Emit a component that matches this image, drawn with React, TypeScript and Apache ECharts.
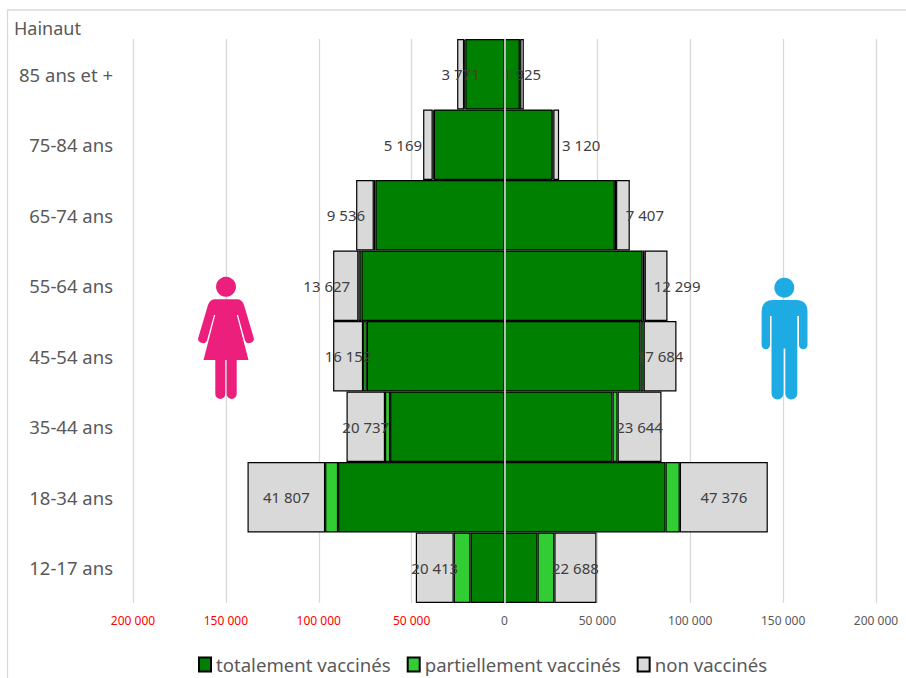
import React, { useEffect, useRef } from "react";
import * as echarts from "echarts";

const categories = ["85 ans et +", "75-84 ans", "65-74 ans", "55-64 ans", "45-54 ans", "35-44 ans", "18-34 ans", "12-17 ans"];
const femmesTotal = [-21100, -38050, -69450, -77000, -74130, -61590, -89580, -18300];
const femmesPartiel = [-630, -590, -900, -1640, -1990, -2730, -6970, -9040];
const femmesNon = [-3771, -5169, -9536, -13627, -16152, -20737, -41807, -20413];
const hommesTotal = [8240, 25840, 59380, 74300, 73200, 58140, 86680, 17770];
const hommesPartiel = [235, 440, 670, 1150, 1700, 2740, 7700, 9070];
const hommesNon = [1925, 3120, 7407, 12299, 17684, 23644, 47376, 22688];
const femmesLabelShift = [0, -25, -19, -19, 0, 0, 0, 0];
const hommesLabelShift = [0, 25, 22, 21, 0, 0, 0, 0];

const NAME_TOTAL = "totalement vaccinés";
const NAME_PARTIEL = "partiellement vaccinés";
const NAME_NON = "non vaccinés";
const FONT = "'Noto Sans', sans-serif";

const WOMAN =
  "M226 299.3 L237 299.3 Q242 299.3 244 305 L253.5 337 A4.6 4.6 0 0 1 245 340.5 L238 315 L236.8 315 L248.5 360 L236.7 360 L236.7 394 A5 5 0 0 1 226.7 394 L226.7 360 L225.3 360 L225.3 394 A5 5 0 0 1 215.3 394 L215.3 360 L203.5 360 L215.2 315 L214 315 L207 340.5 A4.6 4.6 0 0 1 198.5 337 L208 305 Q210 299.3 215 299.3 Z";
const MAN =
  "M773 300 L796 300 Q807.5 300 807.5 312 L807.5 345 A4.2 4.2 0 0 1 799 345 L799 316 L797.3 316 L797.3 393.5 A6 6 0 0 1 785.3 393.5 L785.3 348.5 L783.5 348.5 L783.5 393.5 A6 6 0 0 1 771.5 393.5 L771.5 316 L770 316 L770 345 A4.2 4.2 0 0 1 761.6 345 L761.6 312 Q761.6 300 773 300 Z";

echarts.graphic.registerShape("woman", echarts.graphic.extendPath(WOMAN, {}));
echarts.graphic.registerShape("man", echarts.graphic.extendPath(MAN, {}));

const fmt = (v: number | string) =>
  String(Math.abs(Number(v))).replace(/\B(?=(\d{3})+(?!\d))/g, " ");

function bar(name: string, data: number[], color: string, shifts?: number[]) {
  return {
    type: "bar",
    name,
    data: shifts
      ? data.map((value, i) => ({ value, label: { offset: [shifts[i], 0] } }))
      : data,
    stack: "pyramide",
    barWidth: "100%",
    barCategoryGap: 0,
    itemStyle: { color, borderColor: "#000000", borderWidth: 1.2 },
    label: shifts
      ? {
          show: true,
          position: "inside",
          color: "#404040",
          fontFamily: FONT,
          fontSize: 15,
          formatter: (p: any) => fmt(p.value),
        }
      : { show: false },
  };
}

export default function App() {
  const ref = useRef<HTMLDivElement>(null);
  useEffect(() => {
    const chart = echarts.init(ref.current!, undefined, { renderer: "svg" });
    chart.setOption({
      animation: false,
      backgroundColor: "#ffffff",
      textStyle: { fontFamily: FONT },
      title: {
        text: "Hainaut",
        left: 14,
        top: 19,
        padding: 0,
        textStyle: { color: "#595959", fontSize: 18, fontWeight: "normal", fontFamily: FONT },
      },
      grid: { left: 133, right: 30, top: 39, bottom: 75, containLabel: false },
      legend: {
        left: 198,
        top: 655,
        padding: 0,
        itemWidth: 12,
        itemHeight: 14,
        itemGap: 16,
        icon: "rect",
        data: [NAME_TOTAL, NAME_PARTIEL, NAME_NON],
        textStyle: { color: "#595959", fontSize: 18.6, fontFamily: FONT, padding: [0, 0, 0, 0] },
      },
      xAxis: {
        type: "value",
        min: -200000,
        max: 200000,
        interval: 50000,
        position: "bottom",
        axisLine: { show: false },
        axisTick: { show: false },
        splitLine: { show: true, lineStyle: { color: "#d9d9d9", width: 1.3 } },
        axisLabel: {
          margin: 11,
          fontSize: 12,
          fontFamily: FONT,
          formatter: (v: number) => fmt(v),
          color: (v: any) => (Number(v) < 0 ? "#ff0000" : "#595959"),
        },
      },
      yAxis: [
        {
          type: "category",
          data: categories,
          inverse: true,
          position: "left",
          axisLine: { show: false, onZero: false },
          axisTick: { show: false },
          axisLabel: { margin: 20, fontSize: 18.5, color: "#595959", fontFamily: FONT },
        },
        {
          type: "category",
          data: categories,
          inverse: true,
          position: "left",
          z: 10,
          axisLine: { show: true, onZero: true, lineStyle: { color: "#ececec", width: 1.5 } },
          axisTick: { show: false },
          axisLabel: { show: false },
        },
      ],
      series: [
        bar(NAME_TOTAL, femmesTotal, "#008000"),
        bar(NAME_PARTIEL, femmesPartiel, "#32cd32"),
        bar(NAME_NON, femmesNon, "#d9d9d9", femmesLabelShift),
        bar(NAME_TOTAL, hommesTotal, "#008000"),
        bar(NAME_PARTIEL, hommesPartiel, "#32cd32"),
        bar(NAME_NON, hommesNon, "#d9d9d9", hommesLabelShift),
      ],
      graphic: [
        { type: "line", z: 20, silent: true, shape: { x1: 7.5, y1: 10, x2: 7.5, y2: 678 }, style: { stroke: "#d9d9d9", lineWidth: 1.3 } },
        { type: "line", z: 20, silent: true, shape: { x1: 7, y1: 10, x2: 906, y2: 10 }, style: { stroke: "#d9d9d9", lineWidth: 1.3 } },
        { type: "circle", z: 20, silent: true, shape: { cx: 226, cy: 286.8, r: 10 }, style: { fill: "#ec1f7d" } },
        { type: "woman", z: 20, silent: true, x: 0, y: 0, style: { fill: "#ec1f7d" } },
        { type: "circle", z: 20, silent: true, shape: { cx: 784.3, cy: 287.7, r: 10 }, style: { fill: "#1eabe3" } },
        { type: "man", z: 20, silent: true, x: 0, y: 0, style: { fill: "#1eabe3" } },
      ],
    });
    return () => chart.dispose();
  }, []);
  return (
    <div
      ref={ref}
      style={{ position: "fixed", left: 0, top: 0, width: 906, height: 678 }}
    />
  );
}
